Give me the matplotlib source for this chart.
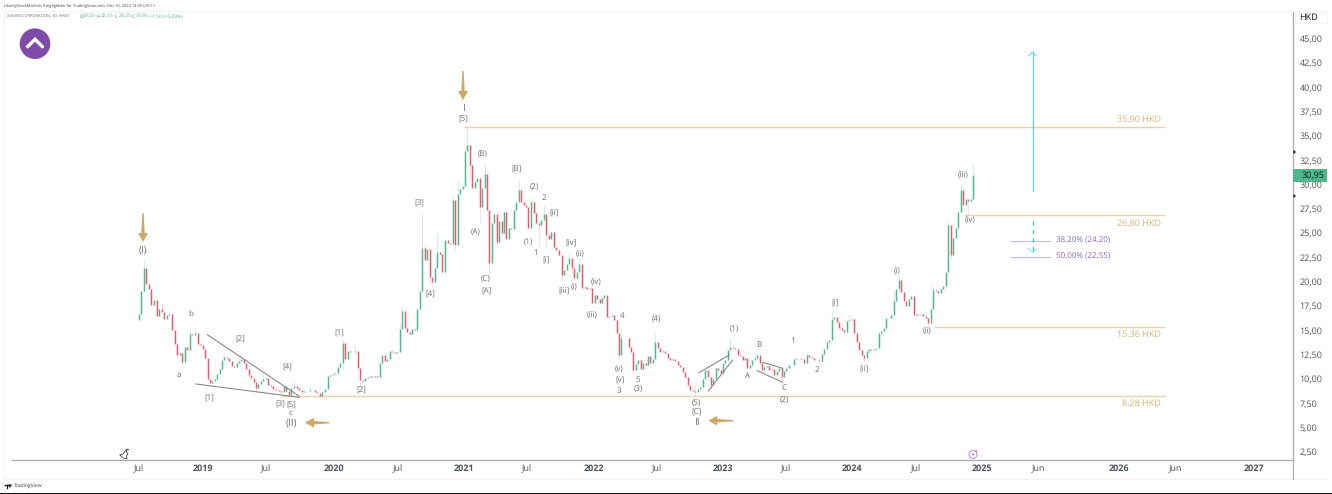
import matplotlib
matplotlib.use("Agg")
import matplotlib.pyplot as plt
import numpy as np
import pandas as pd
from matplotlib.transforms import Affine2D
from matplotlib.patches import Circle, Polygon, Rectangle
from matplotlib.lines import Line2D

plt.rcParams['font.family'] = ['Open Sans', 'DejaVu Sans']
plt.rcParams['text.hinting'] = 'no_hinting'
plt.rcParams['text.hinting_factor'] = 1

W, H = 1332, 494
FIRST_CANDLE = "2018-07-09"
closes = [
 16.7,19.0,21.4,19.8,19.2,17.6,18.1,16.5,17.2,16.9,16.2,16.6,16.7,15.0,13.6,12.4,12.7,11.7,13.3,13.0,
 14.6,14.5,14.7,13.6,13.5,13.1,12.1,10.0,9.6,9.8,10.0,10.5,11.0,11.9,12.2,12.1,11.8,11.3,11.2,11.6,
 11.8,12.0,11.6,11.0,10.4,10.1,9.7,9.1,9.5,9.8,10.0,10.1,9.4,9.3,9.0,8.9,8.8,8.6,9.3,8.8,
 8.3,9.1,9.3,9.1,8.9,8.6,8.8,8.8,8.9,8.9,8.6,8.5,8.25,8.6,9.0,10.3,10.4,10.5,10.6,11.2,
 11.6,13.7,12.0,12.9,12.8,12.8,12.9,11.1,9.9,9.8,10.1,10.2,10.3,10.2,10.3,10.2,11.6,12.4,11.8,12.0,
 12.9,12.8,12.7,12.8,15.1,17.0,15.2,14.8,14.6,15.1,15.0,17.2,19.0,23.4,22.2,23.3,20.5,20.0,21.4,23.0,
 22.8,21.0,24.3,24.0,23.9,28.4,23.8,29.0,29.5,29.8,33.4,34.0,32.0,29.6,30.2,30.6,27.7,29.6,31.1,27.4,
 21.9,26.0,26.9,24.1,26.2,25.0,27.2,24.4,25.5,25.4,27.4,28.2,29.4,28.2,27.9,27.7,25.5,28.2,27.0,26.0,
 25.8,26.3,26.9,24.8,24.4,25.1,23.6,23.2,22.7,20.7,21.2,21.8,22.4,21.4,20.4,21.0,21.8,19.3,19.4,19.2,
 19.3,17.8,18.6,18.2,17.8,18.3,18.6,16.4,16.5,16.6,16.0,14.7,12.4,14.2,14.2,14.2,13.3,12.8,10.9,11.5,
 11.9,11.0,11.6,11.4,12.3,11.6,12.0,13.8,13.2,12.8,12.9,12.7,12.1,11.9,12.0,11.8,11.4,11.2,10.7,10.2,
 9.4,8.9,8.7,8.6,9.0,9.2,10.0,10.9,10.2,9.4,10.0,11.1,10.9,10.6,11.6,11.9,13.0,13.3,13.2,13.1,
 12.4,12.3,11.9,12.1,11.1,11.4,11.9,12.1,12.4,11.6,10.9,11.2,11.3,10.9,11.0,10.4,10.8,11.1,10.2,10.8,
 11.1,11.4,11.4,12.0,12.1,12.1,12.0,11.6,12.4,12.2,12.1,11.9,11.9,11.8,12.6,13.1,13.8,14.0,16.2,16.4,
 15.8,15.2,15.0,14.8,15.9,16.0,16.2,14.7,13.8,13.0,12.5,12.1,12.9,13.1,13.0,13.1,13.2,14.7,14.9,15.2,
 16.3,16.3,16.6,18.0,19.2,20.2,18.9,18.0,17.5,18.2,18.5,16.6,16.7,16.6,16.7,16.5,16.3,15.7,17.2,19.1,
 19.0,18.8,19.2,19.5,21.0,25.8,22.7,24.5,25.5,27.2,29.4,27.9,28.5,28.3,28.5,30.95]
wick_high = {2:22.3,9:17.8,20:15.1,22:15.2,34:12.6,39:12.0,50:10.4,62:9.7,68:9.2,81:14.1,82:13.2,86:13.5,
             104:15.8,105:17.4,113:26.9,114:23.8,119:25.0,125:28.8,127:30.5,131:35.9,133:31.0,138:32.1,
             152:30.4,157:28.6,162:27.9,172:23.0,176:22.4,193:15.2,207:14.6,223:9.3,237:14.2,247:12.7,
             268:12.8,278:17.0,285:16.7,303:19.0,305:20.7,319:19.6,325:26.1,330:30.0,335:32.15}
wick_low = {0:16.0,15:12.0,17:11.3,47:8.8,60:8.1,72:8.2,81:11.0,88:9.3,116:19.8,117:19.3,126:23.2,132:30.5,
            136:26.0,140:20.5,143:23.6,160:23.7,163:23.4,169:20.2,173:20.9,192:12.0,198:10.5,223:8.28,
            229:9.0,258:9.9,291:11.8,317:15.2,326:22.3,333:26.7}

tick_dates = ["2018-07-09","2019-01-01","2019-07-01","2020-01-01","2020-07-01","2021-01-01","2021-07-01",
              "2022-01-01","2022-07-01","2023-01-01","2023-07-01","2024-01-01","2024-07-01","2025-01-01",
              "2025-06-01","2026-01-01","2026-06-01","2027-01-01"]
tick_labels = ["Jul","2019","Jul","2020","Jul","2021","Jul","2022","Jul","2023","Jul","2024","Jul","2025",
               "Jun","2026","Jun","2027"]
tick_screen = [138.7,203,265.7,333.5,398,464,527,594,656.7,722.7,785.7,851.7,916,981.7,1038.7,1118.7,1175,1254]
y_ticks = [2.5,5,7.5,10,12.5,15,17.5,20,22.5,25,27.5,30,32.5,35,37.5,40,42.5,45]

levels = [35.90,26.80,15.36,8.28]
level_labels = ["35.90 HKD","26.80 HKD","15.36 HKD","8.28 HKD"]
level_start = ["2021-01-01","2024-11-12","2024-08-20","2019-08-15"]
fib_prices = [24.20,22.55]
fib_labels = ["38,20% (24,20)","50,00% (22,55)"]

wave_labels = [("(I)",143,250),("I",463,108),("[5]",463,119),("(B)",483,154),("[3]",419,204),("[4]",430,295),
 ("(A)",476,233),("(C)",486,280),("[A]",486,292),("[B]",517,169),("(2)",534,188),("2",544,198),("[ii]",554,214),
 ("(1)",528,242),("1",536,253),("[i]",546,261),("[iv]",571,244),("(ii)",580,255),("[iii]",564,292),("(i)",574,288),
 ("(iv)",596,283),("(iii)",592,316),("4",622,316),("(4)",656,320),("(1)",734,329),("[i]",835,304),("B",759,345),
 ("1",793,341),("[ii]",864,370),("2",817,370),("(v)",619,369),("[v]",620,380),("5",638,380),("3",619,391),
 ("(3)",638,390),("A",748,376),("C",784,388),("(2)",784,401),("(5)",696,403),("[C]",696,413),("II",697,422),
 ("(ii)",927,332),("(iii)",963,176),("(iv)",970,221),("(i)",897,272),("[1]",209,398),("[2]",240,340),("[4]",287,368),
 ("[3]",280,405),("[5]",291,405),("c",290,413),("(II)",291,423),("[1]",339,333),("[2]",361,391),("a",179,375),("b",191,314)]
trend_lines = [(207.3,334.7,299,396),(196,384,299,397.3),(699,372.7,729.3,355),(708.3,391,732.7,360),
               (762.7,362.3,782.7,368.3),(757.3,370.7,782.7,382.3)]

GREEN, RED = "#4cb98c", "#f0566c"
GOLD, GOLD_LINE, GOLD_ARROW = "#d9b272", "#e9d2ab", "#cfa966"
GREY = "#6a6d78"

fig = plt.figure(figsize=(W/100, H/100), dpi=100, facecolor="white")
L, R, T, B = 12, 1293, 11, 459.5
ax = fig.add_axes([L/W, 1-B/H, (R-L)/W, (B-T)/H])
ax.set_xlim(L, R)
ax.set_ylim(1.71, 47.81)
px = Affine2D().scale(1, -1).translate(0, H)

dates = pd.date_range(FIRST_CANDLE, periods=len(closes), freq="7D")
def to_x(d):
    return np.interp(pd.to_datetime(d).astype("int64"), pd.to_datetime(tick_dates).astype("int64"), tick_screen)
xs = to_x(dates)
c = np.array(closes)
o = np.r_[c[0] - 0.6, c[:-1]]
up = c >= o

for i, h in wick_high.items():
    ax.vlines(xs[i], max(o[i], c[i]), h, color="#d6efe4" if up[i] else "#fbdfe3", lw=0.8, zorder=2)
for i, l in wick_low.items():
    ax.vlines(xs[i], l, min(o[i], c[i]), color="#d6efe4" if up[i] else "#fbdfe3", lw=0.8, zorder=2)
ax.vlines(xs[up], o[up], c[up], color=GREEN, lw=1.05, zorder=3)
ax.vlines(xs[~up], o[~up], c[~up], color=RED, lw=1.05, zorder=3)

# horizontal levels
for p, s, lab in zip(levels, level_start, level_labels):
    ax.hlines(p, float(to_x([s])[0]), 1164.5, color=GOLD_LINE, lw=1.0, zorder=2)
    ax.text(1161, p + (0.8 if p == 35.90 else -0.8), lab, color=GOLD, fontsize=6.6, ha="right", va="center", zorder=4)
for p, lab in zip(fib_prices, fib_labels):
    ax.hlines(p, 1010, 1051, color="#cdb9e0", lw=0.8, zorder=2)
    ax.text(1055.5, p, lab, color="#8e63b8", fontsize=5.6, ha="left", va="center")

# axes styling
for s in ("top", "left"):
    ax.spines[s].set_visible(False)
for s in ("right", "bottom"):
    ax.spines[s].set_color("#a9acb5")
    ax.spines[s].set_linewidth(0.9)
ax.yaxis.tick_right()
ax.set_yticks(y_ticks)
ax.set_yticklabels([f"{v:.2f}".replace(".", ",") for v in y_ticks], color="#50535e", fontsize=6.7)
ax.tick_params(axis="y", length=0, pad=4.6)
ax.set_xticks(tick_screen)
ax.set_xticklabels(tick_labels, fontsize=6.8, color="#50535e")
ax.tick_params(axis="x", length=0, pad=3.6)
for t, s in zip(ax.get_xticklabels(), tick_labels):
    if s.isdigit():
        t.set_fontweight("bold")

# wave labels
for s, x, y in wave_labels:
    big = s in ("(I)", "(II)", "I", "II")
    fig.text(x, y, s, transform=px, ha="center", va="center", color=GREY, fontsize=7.0 if big else 5.9)
for x0, y0, x1, y1 in trend_lines:
    fig.add_artist(Line2D([x0, x1], [y0, y1], transform=px, color="#7f828c", lw=0.75))

# gold arrows (screen shapes)
def gold_arrow(x, y, dx, dy, n=29):
    nx, ny = -dy, dx
    pts = [(0, 0.7), (n - 9, 1.7), (n - 9, 5), (n, 0), (n - 9, -5), (n - 9, -1.7), (0, -0.7)]
    xy = [(x + a * dx + b * nx, y + a * dy + b * ny) for a, b in pts]
    fig.add_artist(Polygon(xy, closed=True, transform=px, fc=GOLD_ARROW, ec="none"))
gold_arrow(143, 213, 0, 1)
gold_arrow(463, 71, 0, 1)
gold_arrow(329, 422.7, -1, 0, 24)
gold_arrow(733.3, 420.7, -1, 0, 25)

# teal arrows
TEAL = "#62d4dc"
fig.add_artist(Line2D([1032.5, 1032.5], [191, 52], transform=px, color=TEAL, lw=0.95))
fig.add_artist(Line2D([1028.5, 1032.5, 1036.5], [56, 52, 56], transform=px, color=TEAL, lw=0.7))
fig.add_artist(Line2D([1032.5, 1032.5], [221, 252], transform=px, color="#3fc6d0", lw=0.95, ls=(0, (3, 3.5))))
fig.add_artist(Line2D([1028, 1032.5, 1037], [248, 252.5, 248], transform=px, color="#3fc6d0", lw=0.75, ls=(0, (1.5, 1.5))))

# logo circle
fig.add_artist(Circle((35, 43.7), 15.3, transform=px, fc="#7e4ba8", ec="none"))
fig.add_artist(Line2D([27.5, 35, 42.5], [46.8, 39.3, 46.8], transform=px, color="white", lw=2.4,
                      solid_capstyle="round", solid_joinstyle="miter"))

# header texts
fig.text(4, 5.5, "LibertyStockMarkets freigegeben für TradingView.com, Dec 10, 2024 14:05 UTC+1",
         transform=px, fontsize=3.05, color="#3c3f48", va="center")
fig.text(7, 16.5, "XIAOMI CORPORATION, 3D, HKEX", transform=px, fontsize=3.15, color="#6a6d78", va="center")
for x, k, v in [(79.3, "O", "29,50"), (97, "H", "32,15"), (115, "L", "29,25"), (132, "C", "30,95")]:
    fig.text(x, 16.5, k, transform=px, fontsize=3.3, color="#6a6d78", va="center")
    fig.text(x + 3.4, 16.5, v, transform=px, fontsize=3.3, color=GREEN, va="center")
fig.text(149.3, 16.5, "+1,50 (+5,09%)", transform=px, fontsize=3.4, color=GREEN, va="center")

# frame
for x0, y0, x1, y1 in [(4, 10.5, 1327, 10.5), (4, 10.5, 4, 479), (4, 479, 1327, 479), (1293, 459.5, 1293, 479)]:
    fig.add_artist(Line2D([x0, x1], [y0, y1], transform=px,
                          color="#f0f3fa" if x0 != 1293 else "#a9acb5", lw=0.8))
fig.add_artist(Rectangle((0, 492.6), W, 1.4, transform=px, fc="#111111", ec="none"))

# price axis extras
fig.add_artist(Rectangle((1295, 12.5), 32, 10, transform=px, fc="white", ec="#eceef3", lw=0.5))
fig.text(1308, 17.5, "HKD", transform=px, fontsize=6.6, color="#131722", ha="center", va="center")
fig.add_artist(Rectangle((1293, 169), 34, 12.7, transform=px, fc="#4fb78b", ec="none", zorder=5))
fig.text(1313.5, 175.3, "30,95", transform=px, fontsize=6.8, color="#0b1a14", ha="center", va="center", zorder=6)
for y in (152, 196):
    fig.add_artist(Polygon([(1293.5, y - 2), (1296, y), (1293.5, y + 2)], transform=px, fc="#131722", ec="none"))

# small event icons
fig.add_artist(Circle((973, 454.5), 4, transform=px, fc="white", ec="#cc7fe0", lw=0.7))
fig.add_artist(Polygon([(973.8, 451.8), (971.8, 455), (973.4, 455), (972.4, 457.2), (974.6, 453.8), (973, 453.8)],
                       transform=px, fc="#b45fd0", ec="none"))
fig.add_artist(Circle((976.2, 451.2), 0.9, transform=px, fc="#f0566c", ec="none"))
fig.add_artist(Line2D([120, 123, 126, 127, 126.5, 128, 126.5, 127, 123, 120],
                      [455, 454, 450, 449, 452, 454, 456, 459, 458, 455], transform=px, color="#3a3d46", lw=0.55))
fig.add_artist(Line2D([126, 127.5], [448.5, 448.5], transform=px, color="#3a3d46", lw=0.7))

# brand
fig.add_artist(Line2D([4.5, 8.5], [485, 485], transform=px, color="#131722", lw=1.0))
fig.add_artist(Line2D([7, 7], [485, 488], transform=px, color="#131722", lw=1.0))
fig.add_artist(Polygon([(8.5, 484.5), (12, 484.5), (10, 488)], transform=px, fc="#131722", ec="none"))
fig.text(13.5, 486.2, "TradingView", transform=px, fontsize=3.6, color="#3c3f48", va="center")

fig.savefig("out.png", dpi=100, facecolor="white")
